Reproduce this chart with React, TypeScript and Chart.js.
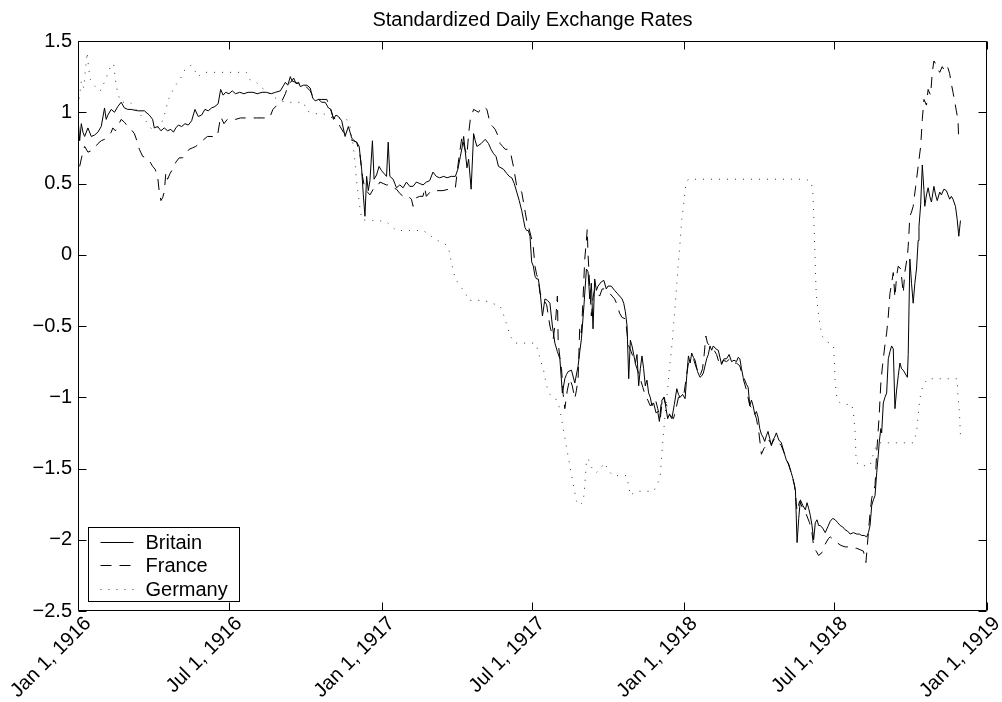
import React, { useEffect, useRef } from 'react';
import { Chart, registerables } from 'chart.js';

Chart.register(...registerables);

const FONT = "'Liberation Sans', Arial, Helvetica, sans-serif";

const chartTitle = 'Standardized Daily Exchange Rates';
const seriesNames = ['Britain', 'France', 'Germany'];

// x positions are days since Jan 1, 1916
const xTickDays = [0, 182, 366, 547, 731, 912, 1096];
const xTickLabels = ['Jan 1, 1916', 'Jul 1, 1916', 'Jan 1, 1917', 'Jul 1, 1917', 'Jan 1, 1918', 'Jul 1, 1918', 'Jan 1, 1919'];
const yTickValues = [-2.5, -2, -1.5, -1, -0.5, 0, 0.5, 1, 1.5];

// [day, standardized value]
const britain: number[][] = [
  [0, 0.96], [2, 0.8], [4, 0.92], [6, 0.86], [8, 0.83], [12, 0.89], [16, 0.83], [20, 0.84], [24, 0.86], [28, 0.9],
  [32, 1.03], [34, 0.95], [36, 0.98], [40, 1.02], [44, 1.0], [48, 1.04], [52, 1.07], [56, 1.03], [60, 1.02], [64, 1.02],
  [72, 1.01], [80, 1.01], [86, 0.98], [90, 0.95], [92, 0.89], [96, 0.9], [100, 0.87], [104, 0.89], [108, 0.87], [112, 0.88],
  [115, 0.86], [118, 0.89], [121, 0.91], [125, 0.9], [129, 0.92], [133, 0.91], [137, 0.94], [141, 1.02], [145, 0.97], [149, 0.98],
  [153, 1.02], [157, 1.01], [161, 1.03], [165, 1.04], [169, 1.06], [172, 1.16], [175, 1.12], [178, 1.14], [182, 1.13], [186, 1.15],
  [190, 1.13], [195, 1.14], [200, 1.13], [205, 1.14], [211, 1.14], [216, 1.13], [222, 1.14], [227, 1.14], [233, 1.13], [238, 1.14],
  [244, 1.15], [248, 1.19], [250, 1.21], [253, 1.19], [256, 1.25], [258, 1.22], [260, 1.24], [263, 1.2], [266, 1.21], [268, 1.18],
  [272, 1.19], [276, 1.19], [280, 1.17], [283, 1.1], [286, 1.08], [290, 1.09], [294, 1.07], [298, 1.07], [302, 1.03], [305, 1.02],
  [308, 0.95], [311, 0.98], [314, 0.97], [318, 0.94], [322, 0.83], [326, 0.9], [330, 0.82], [333, 0.8], [336, 0.79], [339, 0.76],
  [342, 0.6], [344, 0.42], [346, 0.27], [348, 0.55], [350, 0.45], [352, 0.52], [355, 0.8], [357, 0.53], [360, 0.56], [363, 0.62],
  [366, 0.59], [369, 0.57], [372, 0.55], [374, 0.79], [376, 0.55], [380, 0.53], [384, 0.47], [388, 0.49], [392, 0.47], [396, 0.51],
  [400, 0.48], [404, 0.48], [408, 0.51], [412, 0.5], [416, 0.49], [420, 0.51], [424, 0.52], [428, 0.58], [432, 0.55], [436, 0.54],
  [441, 0.55], [445, 0.54], [450, 0.55], [455, 0.55], [458, 0.6], [461, 0.69], [463, 0.75], [465, 0.83], [467, 0.72], [469, 0.61],
  [471, 0.67], [474, 0.46], [477, 0.85], [479, 0.8], [481, 0.76], [486, 0.78], [491, 0.81], [495, 0.78], [498, 0.74], [501, 0.71],
  [504, 0.69], [507, 0.62], [510, 0.61], [513, 0.6], [517, 0.57], [520, 0.55], [523, 0.54], [526, 0.5], [529, 0.44], [532, 0.38],
  [535, 0.31], [537, 0.25], [539, 0.19], [541, 0.17], [543, 0.17], [545, 0.13], [547, -0.05], [549, -0.08], [551, -0.15], [553, -0.17],
  [555, -0.17], [557, -0.25], [560, -0.43], [563, -0.31], [566, -0.32], [569, -0.34], [572, -0.5], [575, -0.62], [578, -0.68], [581, -0.73],
  [584, -0.97], [587, -0.87], [589, -0.84], [591, -0.82], [595, -0.81], [599, -0.9], [603, -0.78], [605, -0.68], [607, -0.59], [610, -0.36],
  [613, -0.1], [615, -0.12], [617, -0.31], [619, -0.2], [621, -0.52], [623, -0.17], [625, -0.25], [627, -0.22], [631, -0.19], [634, -0.18],
  [637, -0.24], [639, -0.22], [643, -0.22], [647, -0.25], [650, -0.27], [653, -0.29], [656, -0.31], [658, -0.34], [660, -0.4], [662, -0.5],
  [664, -0.87], [666, -0.6], [668, -0.64], [670, -0.7], [672, -0.76], [674, -0.7], [676, -0.92], [678, -0.8], [680, -0.71], [682, -0.8],
  [684, -0.92], [686, -0.88], [688, -0.97], [690, -1.0], [692, -1.06], [694, -1.04], [697, -1.11], [699, -1.1], [701, -1.17], [703, -1.05],
  [704, -1.02], [707, -1.0], [709, -1.08], [711, -1.15], [713, -1.12], [716, -1.15], [719, -1.05], [722, -0.94], [724, -0.98], [726, -1.0],
  [729, -0.98], [732, -1.01], [734, -0.85], [736, -0.71], [738, -0.76], [740, -0.69], [742, -0.72], [744, -0.74], [747, -0.82], [750, -0.86],
  [752, -0.85], [754, -0.83], [756, -0.78], [758, -0.73], [760, -0.7], [762, -0.64], [764, -0.67], [766, -0.64], [769, -0.66], [772, -0.67],
  [774, -0.72], [776, -0.77], [779, -0.73], [782, -0.73], [785, -0.7], [788, -0.75], [791, -0.74], [794, -0.75], [796, -0.72], [798, -0.73],
  [800, -0.8], [802, -0.86], [804, -0.88], [806, -0.91], [808, -0.93], [810, -1.06], [812, -1.02], [814, -1.06], [816, -1.12], [818, -1.1],
  [820, -1.14], [822, -1.22], [824, -1.26], [826, -1.28], [828, -1.31], [830, -1.27], [832, -1.24], [834, -1.29], [836, -1.34], [838, -1.3],
  [840, -1.28], [842, -1.25], [845, -1.3], [848, -1.32], [851, -1.38], [854, -1.44], [857, -1.47], [860, -1.53], [862, -1.57], [865, -1.65],
  [867, -2.02], [869, -1.85], [871, -1.72], [874, -1.76], [877, -1.79], [879, -1.74], [881, -1.78], [883, -1.83], [885, -1.9], [887, -2.0],
  [889, -1.88], [891, -1.86], [893, -1.9], [895, -1.9], [898, -1.92], [901, -1.95], [904, -1.91], [907, -1.87], [910, -1.85], [913, -1.86],
  [916, -1.88], [919, -1.9], [922, -1.91], [925, -1.93], [928, -1.94], [931, -1.96], [935, -1.95], [939, -1.96], [942, -1.96], [945, -1.97],
  [948, -1.97], [951, -1.98], [953, -1.95], [955, -1.9], [957, -1.76], [959, -1.72], [961, -1.69], [963, -1.53], [965, -1.4], [966, -1.32],
  [968, -1.22], [969, -1.25], [971, -1.04], [973, -1.0], [975, -0.97], [977, -0.73], [979, -0.68], [981, -0.64], [983, -0.66], [985, -1.08],
  [987, -0.95], [989, -0.85], [991, -0.76], [993, -0.8], [995, -0.81], [997, -0.83], [1000, -0.86], [1001, -0.7], [1003, -0.03], [1005, -0.2],
  [1007, -0.34], [1009, -0.2], [1011, -0.1], [1013, 0.1], [1014, 0.2], [1016, 0.35], [1018, 0.63], [1020, 0.45], [1021, 0.34], [1023, 0.42],
  [1025, 0.47], [1027, 0.41], [1029, 0.37], [1032, 0.48], [1034, 0.42], [1036, 0.38], [1039, 0.44], [1041, 0.42], [1044, 0.46], [1047, 0.45],
  [1049, 0.42], [1051, 0.39], [1053, 0.41], [1055, 0.39], [1058, 0.34], [1060, 0.25], [1062, 0.13], [1064, 0.24],
];

const france: number[][] = [
  [2, 0.62], [5, 0.7], [8, 0.76], [12, 0.72], [16, 0.73], [20, 0.75], [24, 0.78], [28, 0.8], [32, 0.81], [36, 0.83],
  [40, 0.86], [42, 0.89], [45, 0.87], [48, 0.9], [52, 0.95], [56, 0.93], [60, 0.9], [64, 0.88], [68, 0.85], [71, 0.8],
  [74, 0.74], [78, 0.69], [82, 0.68], [86, 0.66], [90, 0.62], [93, 0.6], [96, 0.55], [98, 0.44], [100, 0.38], [102, 0.4],
  [104, 0.44], [106, 0.58], [108, 0.53], [111, 0.57], [114, 0.6], [118, 0.65], [122, 0.68], [126, 0.68], [130, 0.71], [134, 0.74],
  [138, 0.75], [142, 0.76], [146, 0.78], [150, 0.8], [156, 0.83], [162, 0.83], [168, 0.83], [172, 0.97], [176, 0.92], [180, 0.95],
  [184, 0.96], [190, 0.95], [196, 0.96], [202, 0.96], [208, 0.96], [215, 0.96], [222, 0.96], [231, 0.96], [235, 1.02], [240, 1.05],
  [246, 1.08], [250, 1.13], [254, 1.2], [258, 1.22], [262, 1.21], [266, 1.2], [270, 1.18], [275, 1.18], [280, 1.15], [284, 1.1],
  [288, 1.09], [294, 1.09], [300, 1.09], [304, 1.03], [308, 0.96], [312, 0.95], [316, 0.9], [320, 0.86], [324, 0.84], [328, 0.81],
  [332, 0.8], [336, 0.79], [340, 0.7], [343, 0.55], [346, 0.46], [349, 0.44], [352, 0.42], [356, 0.46], [360, 0.47], [364, 0.51],
  [368, 0.5], [372, 0.49], [376, 0.49], [380, 0.47], [384, 0.46], [388, 0.43], [392, 0.41], [396, 0.42], [400, 0.4], [402, 0.39],
  [404, 0.34], [408, 0.4], [412, 0.41], [416, 0.41], [418, 0.47], [420, 0.41], [426, 0.45], [433, 0.45], [440, 0.45], [447, 0.46],
  [455, 0.47], [459, 0.67], [463, 0.83], [466, 0.75], [469, 0.7], [471, 0.85], [473, 0.95], [477, 1.02], [480, 1.01], [483, 1.0],
  [486, 1.03], [489, 1.04], [493, 1.02], [497, 0.92], [500, 0.9], [503, 0.88], [506, 0.84], [509, 0.78], [512, 0.76], [515, 0.74],
  [518, 0.74], [521, 0.73], [525, 0.62], [529, 0.48], [532, 0.46], [535, 0.44], [538, 0.34], [541, 0.24], [544, 0.18], [547, 0.11],
  [549, 0.05], [551, -0.08], [553, -0.14], [555, -0.17], [557, -0.27], [561, -0.31], [565, -0.35], [569, -0.5], [573, -0.59], [576, -0.45],
  [578, -0.29], [579, -0.62], [581, -0.72], [583, -0.8], [585, -0.98], [587, -1.08], [590, -0.95], [593, -0.87], [596, -0.92], [599, -1.01],
  [601, -0.95], [603, -0.87], [605, -0.5], [607, -0.55], [609, -0.3], [611, -0.03], [613, 0.1], [614, 0.18], [615, 0.0], [617, -0.22],
  [619, -0.43], [621, -0.3], [623, -0.24], [626, -0.27], [629, -0.29], [632, -0.24], [635, -0.24], [638, -0.26], [641, -0.27], [644, -0.29],
  [647, -0.31], [650, -0.35], [653, -0.41], [656, -0.44], [660, -0.45], [662, -0.55], [664, -0.64], [667, -0.68], [670, -0.73], [674, -0.8],
  [678, -0.87], [681, -0.93], [684, -0.99], [687, -1.02], [690, -1.06], [693, -1.04], [696, -1.01], [699, -1.08], [702, -1.15], [704, -1.05],
  [706, -1.0], [708, -1.04], [710, -1.06], [714, -1.13], [718, -1.15], [721, -1.08], [724, -1.0], [727, -1.0], [730, -1.0], [733, -0.88],
  [736, -0.76], [739, -0.73], [742, -0.73], [746, -0.8], [750, -0.85], [753, -0.8], [755, -0.7], [757, -0.57], [759, -0.62], [762, -0.64],
  [766, -0.66], [770, -0.7], [774, -0.78], [778, -0.74], [782, -0.75], [786, -0.73], [790, -0.76], [794, -0.76], [798, -0.78], [802, -0.87],
  [806, -0.95], [810, -1.06], [814, -1.08], [818, -1.15], [821, -1.25], [824, -1.4], [827, -1.36], [830, -1.34], [833, -1.3], [836, -1.33],
  [840, -1.29], [844, -1.31], [848, -1.34], [852, -1.4], [856, -1.46], [860, -1.53], [864, -1.62], [867, -1.8], [870, -1.73], [874, -1.78],
  [878, -1.82], [882, -1.88], [885, -1.95], [887, -2.05], [890, -2.08], [893, -2.11], [897, -2.09], [901, -2.03], [905, -1.99], [907, -1.98],
  [911, -2.0], [915, -2.02], [920, -2.04], [925, -2.05], [931, -2.05], [935, -2.06], [939, -2.06], [943, -2.07], [947, -2.08], [950, -2.16],
  [953, -1.95], [955, -1.81], [957, -1.71], [959, -1.66], [961, -1.62], [963, -1.39], [966, -1.13], [968, -0.9], [970, -0.78], [973, -0.63],
  [975, -0.55], [977, -0.43], [979, -0.27], [981, -0.2], [983, -0.125], [985, -0.3], [987, -0.15], [989, -0.08], [992, -0.1], [995, -0.27],
  [997, -0.12], [1000, -0.01], [1001, 0.06], [1003, 0.27], [1005, 0.3], [1007, 0.34], [1010, 0.48], [1013, 0.62], [1016, 0.76], [1018, 0.95],
  [1020, 1.09], [1023, 1.05], [1025, 1.16], [1028, 1.12], [1030, 1.28], [1032, 1.36], [1035, 1.33], [1037, 1.3], [1039, 1.28], [1042, 1.32],
  [1044, 1.3], [1047, 1.33], [1049, 1.31], [1051, 1.27], [1053, 1.2], [1055, 1.14], [1057, 1.08], [1059, 1.01], [1061, 0.95], [1062, 0.79],
];

const germany: number[][] = [
  [0, 1.04], [2, 1.12], [4, 1.22], [7, 1.17], [9, 1.3], [11, 1.42], [13, 1.3], [15, 1.23], [18, 1.2], [22, 1.17],
  [26, 1.15], [29, 1.16], [31, 1.2], [34, 1.24], [37, 1.29], [40, 1.33], [43, 1.34], [45, 1.23], [48, 1.13], [52, 1.07],
  [58, 1.07], [63, 1.07], [70, 1.02], [77, 0.97], [83, 0.93], [89, 0.88], [94, 0.89], [99, 0.9], [103, 0.96], [105, 1.0],
  [109, 1.09], [115, 1.16], [119, 1.2], [123, 1.23], [129, 1.3], [133, 1.32], [137, 1.33], [141, 1.29], [145, 1.25], [151, 1.28],
  [159, 1.28], [170, 1.28], [181, 1.28], [192, 1.28], [203, 1.28], [207, 1.23], [215, 1.21], [222, 1.17], [227, 1.15], [235, 1.11],
  [244, 1.08], [252, 1.07], [262, 1.07], [272, 1.07], [276, 1.01], [284, 0.99], [290, 0.99], [296, 0.99], [302, 0.97], [308, 0.96],
  [316, 0.96], [324, 0.95], [328, 0.9], [332, 0.76], [334, 0.65], [336, 0.51], [339, 0.37], [342, 0.25], [348, 0.24], [355, 0.24],
  [362, 0.24], [372, 0.23], [378, 0.2], [384, 0.17], [392, 0.17], [400, 0.17], [408, 0.17], [416, 0.17], [424, 0.14], [430, 0.11],
  [437, 0.09], [444, 0.07], [448, 0.02], [450, -0.05], [455, -0.17], [461, -0.22], [467, -0.27], [471, -0.32], [480, -0.32], [489, -0.32],
  [499, -0.34], [509, -0.36], [513, -0.42], [517, -0.49], [521, -0.57], [527, -0.62], [533, -0.62], [539, -0.62], [545, -0.62], [551, -0.62],
  [555, -0.675], [557, -0.73], [561, -0.8], [565, -0.92], [569, -0.98], [576, -1.01], [581, -1.08], [585, -1.22], [589, -1.35], [593, -1.48],
  [597, -1.61], [601, -1.73], [605, -1.76], [608, -1.74], [610, -1.69], [611, -1.62], [613, -1.45], [615, -1.43], [619, -1.49], [625, -1.53],
  [630, -1.5], [635, -1.46], [639, -1.51], [645, -1.55], [650, -1.55], [655, -1.55], [661, -1.55], [664, -1.62], [666, -1.69], [670, -1.67],
  [676, -1.66], [682, -1.66], [688, -1.66], [694, -1.66], [698, -1.62], [702, -1.55], [704, -1.39], [706, -1.25], [708, -1.11], [711, -0.94],
  [713, -0.8], [716, -0.64], [718, -0.5], [720, -0.36], [722, -0.2], [724, -0.05], [726, 0.09], [728, 0.25], [731, 0.39], [733, 0.5],
  [736, 0.53], [745, 0.53], [760, 0.53], [780, 0.53], [800, 0.53], [820, 0.53], [840, 0.53], [860, 0.53], [878, 0.53], [884, 0.51],
  [886, 0.44], [887, 0.3], [888, 0.11], [889, -0.08], [890, -0.27], [893, -0.43], [895, -0.5], [897, -0.57], [903, -0.61], [909, -0.63],
  [911, -0.64], [912, -0.76], [913, -0.9], [915, -1.0], [917, -1.03], [921, -1.05], [927, -1.05], [933, -1.05], [935, -1.11], [937, -1.25],
  [938, -1.41], [940, -1.47], [945, -1.48], [949, -1.48], [955, -1.48], [959, -1.4], [963, -1.33], [967, -1.32], [975, -1.32], [985, -1.32],
  [995, -1.32], [1007, -1.32], [1011, -1.25], [1013, -1.13], [1015, -1.01], [1019, -0.91], [1025, -0.87], [1035, -0.87], [1045, -0.87], [1055, -0.87],
  [1060, -0.87], [1061, -0.99], [1063, -1.13], [1064, -1.27],
];

const seriesData = [britain, france, germany];
const seriesColors = ['#000000', '#000000', '#333333'];
const seriesDashes: number[][] = [[], [11, 8], [1, 7]];

const framePlugin = {
  id: 'matlabFrame',
  afterDatasetsDraw(chart: any) {
    const { ctx, chartArea, scales } = chart;
    const { left, right, top, bottom } = chartArea;
    const xs = scales.x;
    const ys = scales.y;
    const tl = 8;
    ctx.save();
    ctx.strokeStyle = '#000';
    ctx.lineWidth = 1;
    ctx.setLineDash([]);
    ctx.beginPath();
    const L = Math.round(left) + 0.5;
    const R = Math.round(right) - 0.5;
    const T = Math.round(top) + 0.5;
    const B = Math.round(bottom) - 0.5;
    ctx.moveTo(L, T); ctx.lineTo(R, T); ctx.lineTo(R, B); ctx.lineTo(L, B); ctx.closePath();
    xTickDays.forEach((d) => {
      const px = Math.round(xs.getPixelForValue(d)) + 0.5;
      ctx.moveTo(px, B); ctx.lineTo(px, B - tl);
      ctx.moveTo(px, T); ctx.lineTo(px, T + tl);
    });
    yTickValues.forEach((v) => {
      const py = Math.round(ys.getPixelForValue(v)) + 0.5;
      ctx.moveTo(L, py); ctx.lineTo(L + tl, py);
      ctx.moveTo(R, py); ctx.lineTo(R - tl, py);
    });
    ctx.stroke();
    ctx.restore();
  },
};

const legendPlugin = {
  id: 'boxLegend',
  afterDraw(chart: any) {
    const { ctx, chartArea } = chart;
    const bw = 151;
    const bh = 74;
    const bx = Math.round(chartArea.left + 10) + 0.5;
    const by = Math.round(chartArea.bottom - 10 - bh) + 0.5;
    ctx.save();
    ctx.fillStyle = '#ffffff';
    ctx.fillRect(bx, by, bw, bh);
    ctx.strokeStyle = '#000';
    ctx.lineWidth = 1;
    ctx.setLineDash([]);
    ctx.strokeRect(bx, by, bw, bh);
    chart.data.datasets.forEach((ds: any, i: number) => {
      const yy = Math.round(by + 14.5 + i * 23.3) + 0.5;
      ctx.beginPath();
      ctx.setLineDash(ds.borderDash || []);
      ctx.strokeStyle = ds.borderColor;
      ctx.lineWidth = ds.borderWidth;
      ctx.moveTo(bx + 12, yy);
      ctx.lineTo(bx + 45, yy);
      ctx.stroke();
      ctx.setLineDash([]);
      ctx.fillStyle = '#000';
      ctx.font = `20px ${FONT}`;
      ctx.textBaseline = 'middle';
      ctx.textAlign = 'left';
      ctx.fillText(ds.label, bx + 57, yy + 0.5);
    });
    ctx.restore();
  },
};

function fmtY(v: number): string {
  const s = String(Math.abs(v));
  return v < 0 ? '\u2212' + s : s;
}

export default function App() {
  const canvasRef = useRef<HTMLCanvasElement | null>(null);

  useEffect(() => {
    const canvas = canvasRef.current;
    if (!canvas) return;
    const chart = new Chart(canvas, {
      type: 'line',
      data: {
        datasets: seriesNames.map((name, i) => ({
          label: name,
          data: seriesData[i].map((p) => ({ x: p[0], y: p[1] })),
          borderColor: seriesColors[i],
          borderWidth: 1,
          borderDash: seriesDashes[i],
          pointRadius: 0,
          tension: 0,
          fill: false,
        })),
      },
      options: {
        responsive: false,
        animation: false,
        devicePixelRatio: 1,
        parsing: true,
        layout: { padding: { left: 0, right: 15, top: 0, bottom: 0 } },
        plugins: {
          legend: { display: false },
          tooltip: { enabled: false },
          title: {
            display: true,
            text: chartTitle,
            fullSize: false,
            color: '#000',
            font: { family: FONT, size: 20, weight: 'normal' },
            padding: { top: 8, bottom: 9 },
          },
        },
        scales: {
          x: {
            type: 'linear',
            min: 0,
            max: 1096,
            afterBuildTicks: (scale: any) => {
              scale.ticks = xTickDays.map((v) => ({ value: v }));
            },
            afterFit: (scale: any) => {
              scale.height = 91;
              scale.paddingLeft = 0;
              scale.paddingRight = 0;
            },
            grid: { display: false, drawTicks: false },
            border: { display: false },
            ticks: {
              autoSkip: false,
              minRotation: 45,
              maxRotation: 45,
              padding: 1,
              labelOffset: 10,
              color: '#000',
              font: { family: FONT, size: 20 },
              callback: (value: any) => {
                const idx = xTickDays.indexOf(Number(value));
                return idx >= 0 ? xTickLabels[idx] : '';
              },
            },
          },
          y: {
            type: 'linear',
            min: -2.5,
            max: 1.5,
            afterBuildTicks: (scale: any) => {
              scale.ticks = yTickValues.map((v) => ({ value: v }));
            },
            afterFit: (scale: any) => {
              scale.width = 78;
              scale.paddingTop = 0;
              scale.paddingBottom = 0;
            },
            grid: { display: false, drawTicks: false },
            border: { display: false },
            ticks: {
              padding: 6,
              color: '#000',
              font: { family: FONT, size: 20 },
              callback: (value: any) => fmtY(Number(value)),
            },
          },
        },
      } as any,
      plugins: [framePlugin, legendPlugin],
    });
    return () => chart.destroy();
  }, []);

  return (
    <div style={{ position: 'absolute', left: 0, top: 0, width: 1002, height: 702, background: '#fff' }}>
      <canvas ref={canvasRef} width={1002} height={702} style={{ display: 'block', width: 1002, height: 702 }} />
    </div>
  );
}
